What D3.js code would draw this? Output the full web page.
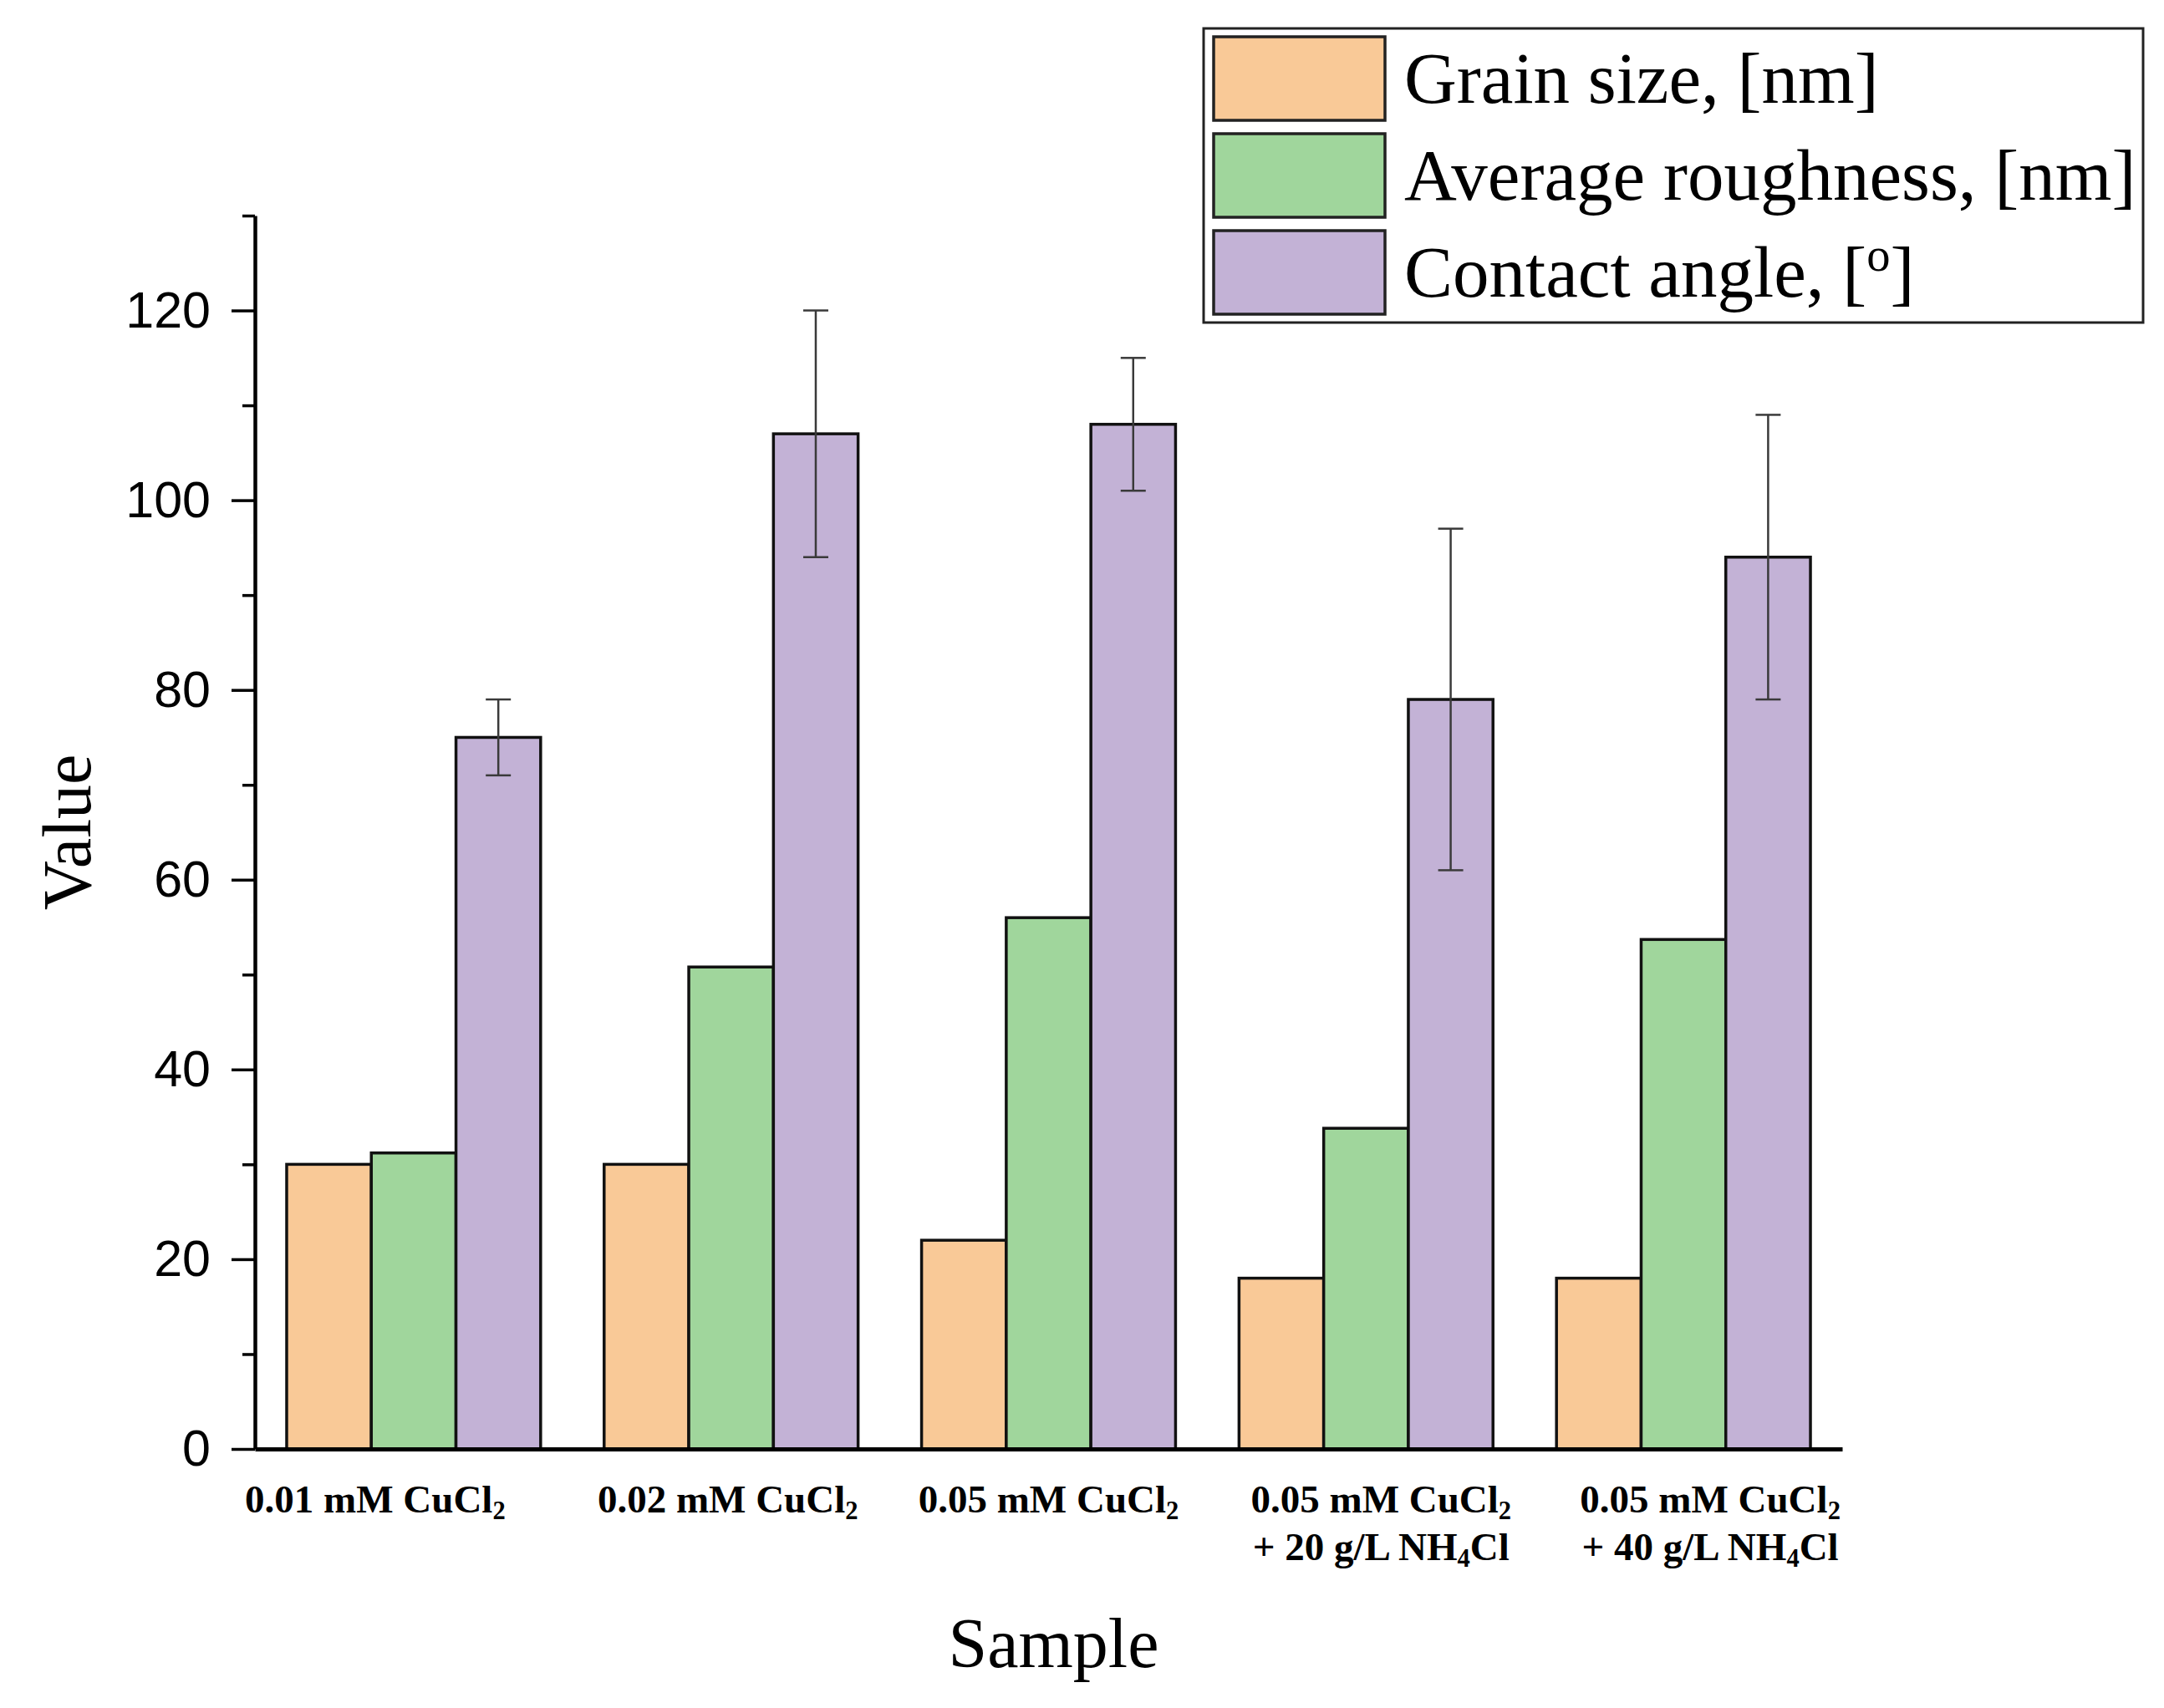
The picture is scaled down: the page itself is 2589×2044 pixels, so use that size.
<!DOCTYPE html>
<html>
<head>
<meta charset="utf-8">
<script src="https://cdn.jsdelivr.net/npm/d3@7"></script>
<style>
  body { margin: 0; background: #fff; }
  text { fill: #000; }
</style>
</head>
<body>
<div id="graph"></div>
<script>
const W = 2589;
const H = 2044;

// data
const sampleLines = [
    ["0.01 mM CuCl_2"],
    ["0.02 mM CuCl_2"],
    ["0.05 mM CuCl_2"],
    ["0.05 mM CuCl_2", "+ 20 g/L NH_4Cl"],
    ["0.05 mM CuCl_2", "+ 40 g/L NH_4Cl"]
];
const seriesNames = ["Grain size, [nm]", "Average roughness, [nm]", "Contact angle, [^o]"];
const seriesColors = ["#f9c997", "#a0d69c", "#c3b2d6"];
const grainSize = [30, 30, 22, 18, 18];
const roughness = [31.2, 50.8, 56, 33.8, 53.7];
const contactAngle = [75, 107, 108, 79, 94];
const contactErr = [4, 13, 7, 18, 15];
const yMajor = [0, 20, 40, 60, 80, 100, 120];
const yMinor = [10, 30, 50, 70, 90, 110, 130];
// small nudges of the category labels, as in the original
const labelShift = [-46, -4, 0, 18, 32];

const margin = { left: 305, right: 385, top: 258, bottom: 310 };

const svg = d3.select("#graph")
    .append("svg")
    .attr("width", W)
    .attr("height", H)
    .style("background", "#fff");

const x0 = d3.scaleBand()
    .domain(d3.range(sampleLines.length))
    .range([margin.left, W - margin.right])
    .paddingInner(0.2)
    .paddingOuter(0.1);

const x1 = d3.scaleBand()
    .domain(d3.range(seriesNames.length))
    .range([0, x0.bandwidth()])
    .padding(0);

const y = d3.scaleLinear()
    .domain([0, 130])
    .range([H - margin.bottom, margin.top]);

const rows = sampleLines.map(function(d, i) {
    return { i: i, values: [grainSize[i], roughness[i], contactAngle[i]] };
});

// write text with _x as subscript and ^x as superscript
function richText(sel, str, size) {
    const parts = str.split(/([_^].)/);
    parts.forEach(function(p) {
        if (p === "") return;
        if (p[0] === "_" && p.length === 2) {
            sel.append("tspan").attr("baseline-shift", "-25%")
                .style("font-size", (size * 0.65) + "px").text(p[1]);
        } else if (p[0] === "^" && p.length === 2) {
            sel.append("tspan").attr("baseline-shift", "55%")
                .style("font-size", (size * 0.65) + "px").text(p[1]);
        } else {
            sel.append("tspan").text(p);
        }
    });
}

// bars
const groups = svg.selectAll("g.group")
    .data(rows)
    .enter()
    .append("g")
    .attr("class", "group")
    .attr("transform", function(d) { return "translate(" + x0(d.i) + ",0)"; });

groups.selectAll("rect")
    .data(function(d) { return d.values; })
    .enter()
    .append("rect")
    .attr("x", function(d, j) { return x1(j); })
    .attr("y", function(d) { return y(d); })
    .attr("width", x1.bandwidth())
    .attr("height", function(d) { return y(0) - y(d); })
    .style("fill", function(d, j) { return seriesColors[j]; })
    .style("stroke", "#111")
    .style("stroke-width", 3.5);

// error bars on contact angle
const err = svg.selectAll("g.err")
    .data(rows)
    .enter()
    .append("g")
    .attr("class", "err")
    .style("stroke", "#3a3a3a")
    .style("stroke-width", 2.5);

const errX = function(d) { return x0(d.i) + x1(2) + x1.bandwidth() / 2; };

err.append("line")
    .attr("x1", errX).attr("x2", errX)
    .attr("y1", function(d) { return y(contactAngle[d.i] + contactErr[d.i]); })
    .attr("y2", function(d) { return y(contactAngle[d.i] - contactErr[d.i]); });

[1, -1].forEach(function(s) {
    err.append("line")
        .attr("x1", function(d) { return errX(d) - 15; })
        .attr("x2", function(d) { return errX(d) + 15; })
        .attr("y1", function(d) { return y(contactAngle[d.i] + s * contactErr[d.i]); })
        .attr("y2", function(d) { return y(contactAngle[d.i] + s * contactErr[d.i]); });
});

// y axis
const yAxis = svg.append("g")
    .attr("transform", "translate(" + margin.left + ",0)")
    .call(d3.axisLeft(y).tickValues(yMajor).tickSize(28).tickSizeOuter(0).tickPadding(25));

svg.append("g")
    .attr("transform", "translate(" + margin.left + ",0)")
    .call(d3.axisLeft(y).tickValues(yMinor).tickSize(15).tickSizeOuter(0).tickFormat(""))
    .call(g => g.select(".domain").remove());

svg.selectAll(".tick line").style("stroke", "#000").style("stroke-width", 3.5);
yAxis.select(".domain").style("stroke", "#000").style("stroke-width", 4.5);
yAxis.selectAll("text")
    .style("font-family", "'Liberation Sans', Arial, sans-serif")
    .style("font-size", "61px");

// x axis
const xAxis = svg.append("g")
    .attr("transform", "translate(0," + y(0) + ")")
    .call(d3.axisBottom(x0).tickSize(0).tickSizeOuter(0).tickFormat(""));
xAxis.select(".domain").style("stroke", "#000").style("stroke-width", 5);

// category labels, one text per line
const labelSize = 47;
rows.forEach(function(d) {
    sampleLines[d.i].forEach(function(line, k) {
        const t = svg.append("text")
            .attr("class", "xlab")
            .attr("x", x0(d.i) + x0.bandwidth() / 2 + labelShift[d.i])
            .attr("y", y(0) + 76 + k * 57)
            .attr("text-anchor", "middle")
            .style("font-family", "'Liberation Serif', 'Times New Roman', serif")
            .style("font-weight", "bold")
            .style("font-size", labelSize + "px");
        richText(t, line, labelSize);
    });
});

// axis titles
svg.append("text")
    .attr("transform", "translate(108," + y(65) + ") rotate(-90)")
    .attr("text-anchor", "middle")
    .style("font-family", "'Liberation Serif', 'Times New Roman', serif")
    .style("font-size", "82px")
    .text("Value");

svg.append("text")
    .attr("x", (margin.left + W - margin.right) / 2 + 6)
    .attr("y", 1995)
    .attr("text-anchor", "middle")
    .style("font-family", "'Liberation Serif', 'Times New Roman', serif")
    .style("font-size", "84px")
    .text("Sample");

// legend
const legend = svg.append("g").attr("transform", "translate(1440,34)");
legend.append("rect")
    .attr("width", 1124)
    .attr("height", 352)
    .style("fill", "#fff")
    .style("stroke", "#222")
    .style("stroke-width", 3);

const items = legend.selectAll("g.item")
    .data(seriesNames)
    .enter()
    .append("g")
    .attr("class", "item")
    .attr("transform", function(d, i) { return "translate(12," + (10 + i * 116) + ")"; });

items.append("rect")
    .attr("width", 205)
    .attr("height", 100)
    .style("fill", function(d, i) { return seriesColors[i]; })
    .style("stroke", "#222")
    .style("stroke-width", 3.5);

items.append("text")
    .attr("x", 228)
    .attr("y", 79)
    .style("font-family", "'Liberation Serif', 'Times New Roman', serif")
    .style("font-size", "87px")
    .each(function(d) { richText(d3.select(this), d, 87); });
</script>
</body>
</html>
